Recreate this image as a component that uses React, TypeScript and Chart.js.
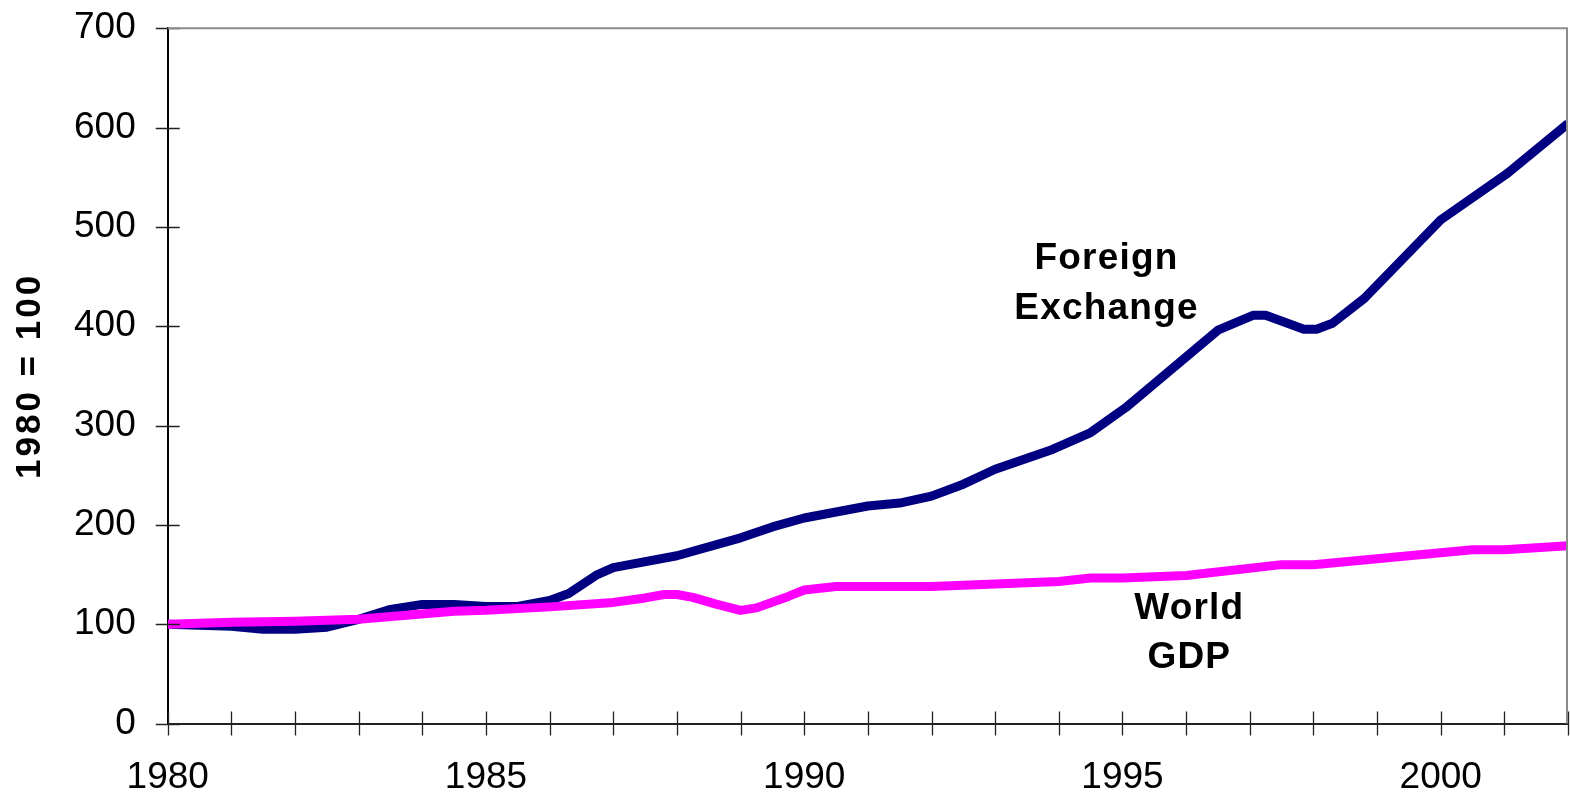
import React, { useEffect, useRef } from 'react';
import { Chart, registerables } from 'chart.js';

Chart.register(...registerables);

// Foreign exchange turnover index (1980 = 100)
const fxYears = [1980, 1981, 1981.5, 1982, 1982.5, 1983, 1983.5, 1984, 1984.5, 1985, 1985.5, 1986, 1986.3, 1986.75, 1987, 1988, 1989, 1989.5, 1990, 1991, 1991.5, 1992, 1992.5, 1993, 1993.9, 1994.5, 1995.05, 1996.5, 1997.05, 1997.25, 1997.85, 1998.05, 1998.3, 1998.8, 2000, 2001.05, 2002];
const fxValues = [100, 98, 95, 95, 97, 105, 115, 120, 120, 118, 118, 124, 131, 150, 157, 169, 187, 198, 207, 219, 222, 229, 241, 256, 276, 293, 318, 396, 411, 411, 397, 397, 403, 428, 507, 554, 604];

// World GDP index (1980 = 100)
const gdpYears = [1980, 1981, 1982, 1983, 1984.5, 1985, 1986, 1987, 1987.5, 1987.8, 1988, 1988.25, 1988.6, 1989, 1989.25, 1989.75, 1990, 1990.5, 1992, 1993, 1994, 1994.5, 1995, 1996, 1997.5, 1998, 2000.5, 2001, 2002];
const gdpValues = [100, 102, 103, 105, 113, 114, 117.5, 122, 126.5, 130, 130, 127, 120.5, 114, 116.5, 128, 134.5, 138, 138, 140.5, 143, 146.5, 146.5, 149, 160, 160, 175, 175, 179];

const yTickValues = [0, 100, 200, 300, 400, 500, 600, 700];
const xLabelYears = [1980, 1985, 1990, 1995, 2000];

const fxLabel = ['Foreign', 'Exchange'];
const gdpLabel = ['World', 'GDP'];

const FONT = '"Liberation Sans", Arial, sans-serif';

export default function App() {
  const ref = useRef<HTMLCanvasElement | null>(null);

  useEffect(() => {
    if (!ref.current) return;

    const decor = {
      id: 'decor',
      afterLayout(chart: any) {
        const yScale = chart.scales.y;
        if (yScale && !yScale.__spaced) {
          const orig = yScale.drawTitle;
          yScale.drawTitle = function () {
            const c = this.ctx;
            c.save();
            c.letterSpacing = '3px';
            orig.call(this);
            c.restore();
          };
          yScale.__spaced = true;
        }
      },
      afterDraw(chart: any) {
        const { ctx, chartArea, scales } = chart;
        const x = scales.x;
        const y = scales.y;
        ctx.save();
        // crossing tick marks
        ctx.strokeStyle = '#222';
        ctx.lineWidth = 1.3;
        ctx.beginPath();
        for (let yr = 1980; yr <= 2002; yr++) {
          const px = Math.round(x.getPixelForValue(yr)) + 0.5;
          ctx.moveTo(px, chartArea.bottom - 12);
          ctx.lineTo(px, chartArea.bottom + 12);
        }
        for (const v of yTickValues) {
          const py = Math.round(y.getPixelForValue(v)) + 0.5;
          ctx.moveTo(chartArea.left - 12, py);
          ctx.lineTo(chartArea.left + 12, py);
        }
        ctx.stroke();
        // top and right frame
        ctx.strokeStyle = '#8c8c8c';
        ctx.lineWidth = 2;
        ctx.beginPath();
        ctx.moveTo(chartArea.left, chartArea.top);
        ctx.lineTo(chartArea.right - 1, chartArea.top);
        ctx.lineTo(chartArea.right - 1, chartArea.bottom);
        ctx.stroke();
        // series labels
        ctx.fillStyle = '#000';
        ctx.font = `bold 37px ${FONT}`;
        (ctx as any).letterSpacing = '1.2px';
        ctx.textAlign = 'center';
        ctx.textBaseline = 'middle';
        const fxX = x.getPixelForValue(1994.75);
        ctx.fillText(fxLabel[0], fxX, y.getPixelForValue(468));
        ctx.fillText(fxLabel[1], fxX, y.getPixelForValue(418));
        const gX = x.getPixelForValue(1996.05);
        ctx.fillText(gdpLabel[0], gX, y.getPixelForValue(116));
        ctx.fillText(gdpLabel[1], gX, y.getPixelForValue(66));
        ctx.restore();
      },
    };

    const chart = new Chart(ref.current, {
      type: 'line',
      data: {
        datasets: [
          {
            label: 'World GDP',
            data: gdpYears.map((yr, i) => ({ x: yr, y: gdpValues[i] })),
            borderColor: '#ff00ff',
            backgroundColor: '#ff00ff',
            borderWidth: 9,
            pointRadius: 0,
            tension: 0,
            borderJoinStyle: 'round',
          },
          {
            label: 'Foreign Exchange',
            data: fxYears.map((yr, i) => ({ x: yr, y: fxValues[i] })),
            borderColor: '#000080',
            backgroundColor: '#000080',
            borderWidth: 9,
            pointRadius: 0,
            tension: 0,
            borderJoinStyle: 'round',
          },
        ],
      },
      options: {
        animation: false,
        responsive: false,
        devicePixelRatio: 1,
        layout: { padding: { left: 9, right: 0, top: 28, bottom: -3 } },
        plugins: {
          legend: { display: false },
          tooltip: { enabled: false },
        },
        scales: {
          x: {
            type: 'linear',
            min: 1980,
            max: 2002,
            ticks: {
              stepSize: 1,
              autoSkip: false,
              maxRotation: 0,
              padding: 2,
              color: '#000',
              font: { family: FONT, size: 37 },
              callback: (v: any) => (xLabelYears.includes(Number(v)) ? String(v) : ''),
            },
            grid: {
              drawOnChartArea: false,
              drawTicks: true,
              tickLength: 30,
              tickColor: 'rgba(0,0,0,0)',
            },
            border: { display: true, color: '#222', width: 2 },
          },
          y: {
            min: 0,
            max: 700,
            ticks: {
              stepSize: 100,
              padding: 6,
              color: '#000',
              font: { family: FONT, size: 37 },
            },
            grid: {
              drawOnChartArea: false,
              drawTicks: true,
              tickLength: 26,
              tickColor: 'rgba(0,0,0,0)',
            },
            border: { display: true, color: '#000', width: 2 },
            title: {
              display: true,
              text: '1980 = 100',
              color: '#000',
              font: { family: FONT, size: 35, weight: 'bold' },
              padding: { top: 0, bottom: 17 },
            },
          },
        },
      },
      plugins: [decor],
    });

    return () => chart.destroy();
  }, []);

  return (
    <div style={{ position: 'absolute', left: 0, top: 0, width: 1570, height: 799, background: '#fff' }}>
      <canvas ref={ref} width={1570} height={799} style={{ display: 'block' }} />
    </div>
  );
}
